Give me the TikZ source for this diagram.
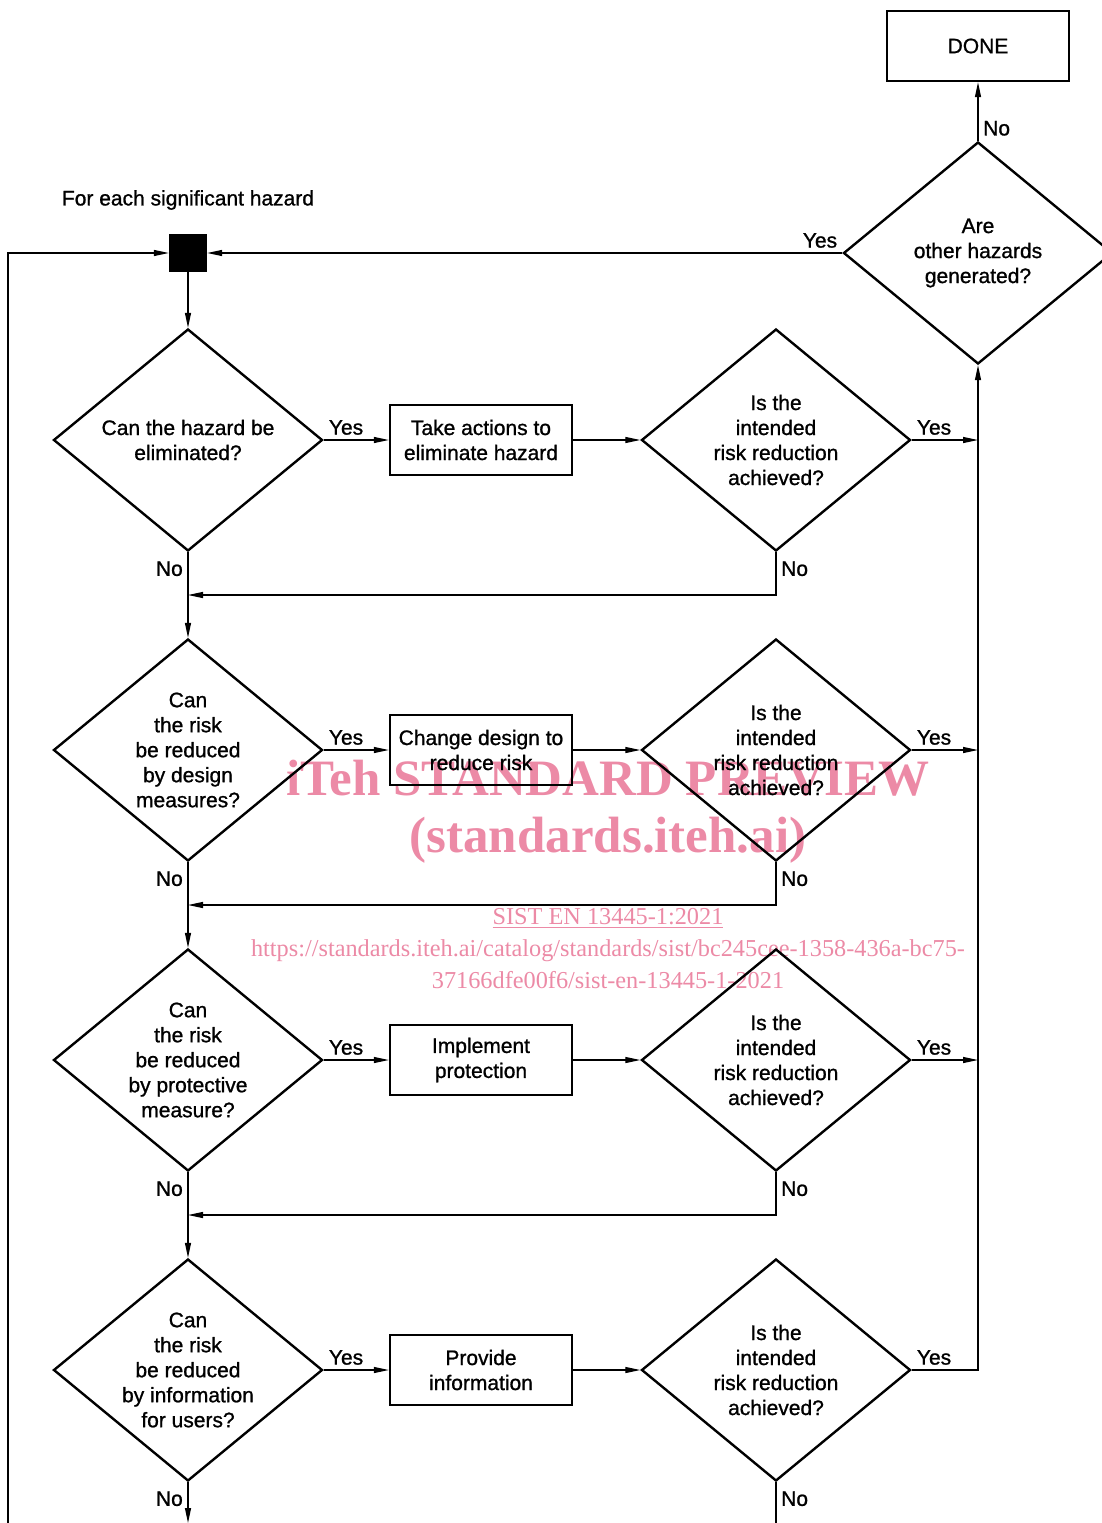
\documentclass[tikz,border=0pt]{standalone}
\usepackage{fontspec}
\setmainfont[FakeBold=1]{Liberation Sans}
\newfontfamily\markfont{Liberation Serif}
\usepackage{xcolor}
\usepackage{tikz}
\usetikzlibrary{shapes.geometric, arrows.meta}
\definecolor{markpink}{RGB}{236,138,166}

\begin{document}
\begin{tikzpicture}[x=1pt, y=-1pt,
        >={Triangle[length=15pt,width=6pt]},
        every node/.style={font=\fontsize{21}{25}\selectfont},
        flow/.style={line width=1.2pt},
        decision/.style={diamond, draw, line width=2.4pt, minimum width=269pt,
            minimum height=222pt, inner sep=-14pt, align=center},
        action/.style={rectangle, draw, line width=2.4pt, minimum width=182pt,
            minimum height=70pt, inner sep=2pt, align=center},
        startbox/.style={rectangle, fill=black, minimum size=38pt, inner sep=0pt},
        lbl/.style={inner sep=5pt},
        nolbl/.style={inner sep=5pt, yshift=-4pt},
        stamp/.style={text=markpink, align=center}]
            \useasboundingbox (0,0) rectangle (1102,1523);

            % watermark first, so the chart lies on top of it
            \node at (608,778) [stamp, font=\markfont\bfseries\fontsize{51}{55}\selectfont] (wm1) {iTeh STANDARD PREVIEW};
            \node at (608,840) [stamp, font=\markfont\bfseries\fontsize{51}{55}\selectfont] (wm2) {(standards.iteh.ai)};
            \node at (608,949) [stamp, font=\markfont\fontsize{24.3}{32}\selectfont] (wm3) {\underline{SIST EN 13445-1:2021}\\https://standards.iteh.ai/catalog/standards/sist/bc245cee-1358-436a-bc75-\\37166dfe00f6/sist-en-13445-1-2021};

            \node at (188,200) (title) {For each significant hazard};
            \node at (188,253) [startbox] (start) {};

            \node at (188,440) [decision] (d1) {Can the hazard be\\eliminated?};
            \node at (188,750) [decision] (d2) {Can\\the risk\\be reduced\\by design\\measures?};
            \node at (188,1060) [decision] (d3) {Can\\the risk\\be reduced\\by protective\\measure?};
            \node at (188,1370) [decision] (d4) {Can\\the risk\\be reduced\\by information\\for users?};

            \node at (481,440) [action] (a1) {Take actions to\\eliminate hazard};
            \node at (481,750) [action] (a2) {Change design to\\reduce risk};
            \node at (481,1060) [action] (a3) {Implement\\protection};
            \node at (481,1370) [action] (a4) {Provide\\information};

            \node at (776,440) [decision] (r1) {Is the\\intended\\risk reduction\\achieved?};
            \node at (776,750) [decision] (r2) {Is the\\intended\\risk reduction\\achieved?};
            \node at (776,1060) [decision] (r3) {Is the\\intended\\risk reduction\\achieved?};
            \node at (776,1370) [decision] (r4) {Is the\\intended\\risk reduction\\achieved?};

            \node at (978,253) [decision] (other) {Are\\other hazards\\generated?};
            \node at (978,46) [action] (done) {DONE};

            \coordinate (j1) at (188,595);
            \coordinate (j2) at (188,905);
            \coordinate (j3) at (188,1215);
            \coordinate (loopin) at (8,1523);
            \coordinate (out1) at (188,1523);
            \coordinate (out2) at (776,1523);

            % main column
            \draw[flow,->] (start.south) -- (d1.north);
            \draw[flow,->] (d1.south) -- (d2.north);
            \draw[flow,->] (d2.south) -- (d3.north);
            \draw[flow,->] (d3.south) -- (d4.north);
            \draw[flow,->] (d4.south) -- (out1);
            \draw[flow,->] (loopin) |- (start.west);

            % yes branches
            \draw[flow,->] (d1.east) -- (a1.west);
            \draw[flow,->] (d2.east) -- (a2.west);
            \draw[flow,->] (d3.east) -- (a3.west);
            \draw[flow,->] (d4.east) -- (a4.west);
            \draw[flow,->] (a1.east) -- (r1.west);
            \draw[flow,->] (a2.east) -- (r2.west);
            \draw[flow,->] (a3.east) -- (r3.west);
            \draw[flow,->] (a4.east) -- (r4.west);

            % not achieved: back to the next question
            \draw[flow,->] (r1.south) |- (j1);
            \draw[flow,->] (r2.south) |- (j2);
            \draw[flow,->] (r3.south) |- (j3);
            \draw[flow] (r4.south) -- (out2);

            % achieved: up to the check for new hazards
            \draw[flow,->] (r1.east) -- (r1.east -| other.south);
            \draw[flow,->] (r2.east) -- (r2.east -| other.south);
            \draw[flow,->] (r3.east) -- (r3.east -| other.south);
            \draw[flow,->] (r4.east) -| (other.south);
            \draw[flow,->] (other.north) -- (done.south);
            \draw[flow,->] (other.west) -- (start.east);

            \node at (d1.east) [lbl, above right] (y1) {Yes};
            \node at (d2.east) [lbl, above right] (y2) {Yes};
            \node at (d3.east) [lbl, above right] (y3) {Yes};
            \node at (d4.east) [lbl, above right] (y4) {Yes};
            \node at (r1.east) [lbl, above right] (y5) {Yes};
            \node at (r2.east) [lbl, above right] (y6) {Yes};
            \node at (r3.east) [lbl, above right] (y7) {Yes};
            \node at (r4.east) [lbl, above right] (y8) {Yes};
            \node at (other.west) [lbl, above left] (y9) {Yes};

            \node at (d1.south) [nolbl, below left] (n1) {No};
            \node at (d2.south) [nolbl, below left] (n2) {No};
            \node at (d3.south) [nolbl, below left] (n3) {No};
            \node at (d4.south) [nolbl, below left] (n4) {No};
            \node at (r1.south) [nolbl, below right] (n5) {No};
            \node at (r2.south) [nolbl, below right] (n6) {No};
            \node at (r3.south) [nolbl, below right] (n7) {No};
            \node at (r4.south) [nolbl, below right] (n8) {No};
            \node at (other.north) [lbl, above right] (n9) {No};
        \end{tikzpicture}
\end{document}
